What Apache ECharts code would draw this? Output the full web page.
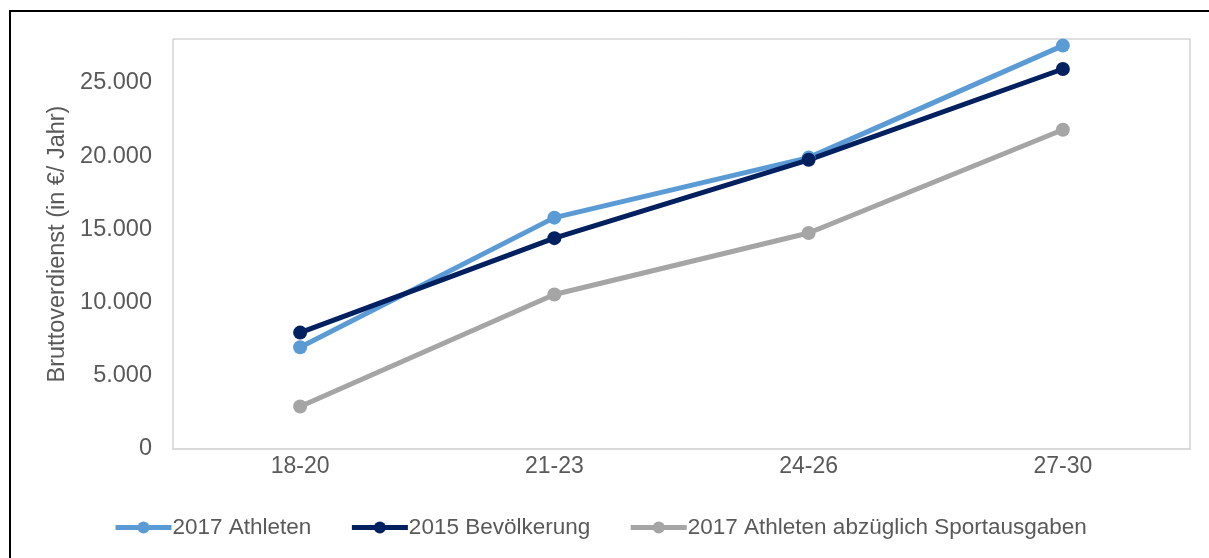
<!DOCTYPE html>
<html>
<head>
<meta charset="utf-8">
<script src="https://cdn.jsdelivr.net/npm/echarts@6/dist/echarts.min.js"></script>
<style>
  html, body { margin: 0; padding: 0; background: #fff; }
  #main { width: 1209px; height: 558px; }
</style>
</head>
<body>
<div id="main"></div>
<script>
const categories = ["18-20", "21-23", "24-26", "27-30"];
const athleten2017 = [6950, 15800, 19900, 27550];
const bevoelkerung2015 = [7950, 14400, 19750, 25950];
const athletenOhneSport = [2900, 10550, 14750, 21800];
const yTicks = [0, 5000, 10000, 15000, 20000, 25000];

const chart = echarts.init(document.getElementById("main"));

const fmt = (v) => String(v).replace(/\B(?=(\d{3})+(?!\d))/g, ".");

const mkSeries = (name, data, color) => ({
  name: name,
  type: "line",
  data: data,
  symbol: "circle",
  symbolSize: 14,
  lineStyle: { width: 5, color: color },
  itemStyle: { color: color },
  emphasis: { disabled: true },
});

const option = {
  animation: false,
  textStyle: { fontFamily: "Liberation Sans, Arial, sans-serif" },
  graphic: [
    {
      type: "rect",
      shape: { x: 10, y: 11, width: 1400, height: 800 },
      style: { fill: "none", stroke: "#000", lineWidth: 2 },
      silent: true,
    },
  ],
  grid: {
    left: 173,
    right: 19,
    top: 39,
    bottom: 109,
    show: true,
    borderColor: "#bfbfbf",
    borderWidth: 1,
  },
  legend: {
    bottom: 14,
    left: 108,
    itemWidth: 56,
    itemHeight: 15,
    itemGap: 38,
    lineStyle: { width: 5 },
    textStyle: { fontSize: 22.5, color: "#595959", padding: [0, 0, 0, -4] },
    data: ["2017 Athleten", "2015 Bevölkerung", "2017 Athleten abzüglich Sportausgaben"],
  },
  xAxis: {
    type: "category",
    data: categories,
    boundaryGap: true,
    axisLine: { lineStyle: { color: "#d9d9d9", width: 2 } },
    axisTick: { show: false },
    axisLabel: { fontSize: 23, color: "#595959", margin: 6 },
  },
  yAxis: {
    type: "value",
    min: 0,
    max: 28000,
    interval: 5000,
    name: "Bruttoverdienst (in €/ Jahr)",
    nameLocation: "middle",
    nameGap: 103,
    nameTextStyle: { fontSize: 23.5, color: "#595959" },
    splitLine: { show: false },
    axisLine: { show: false },
    axisTick: { show: false },
    axisLabel: {
      fontSize: 23.5,
      color: "#595959",
      margin: 21,
      formatter: (v) => (yTicks.includes(v) ? fmt(v) : ""),
    },
  },
  series: [
    mkSeries("2017 Athleten", athleten2017, "#5b9bd5"),
    mkSeries("2015 Bevölkerung", bevoelkerung2015, "#002060"),
    mkSeries("2017 Athleten abzüglich Sportausgaben", athletenOhneSport, "#a5a5a5"),
  ],
};

chart.setOption(option);
</script>
</body>
</html>
